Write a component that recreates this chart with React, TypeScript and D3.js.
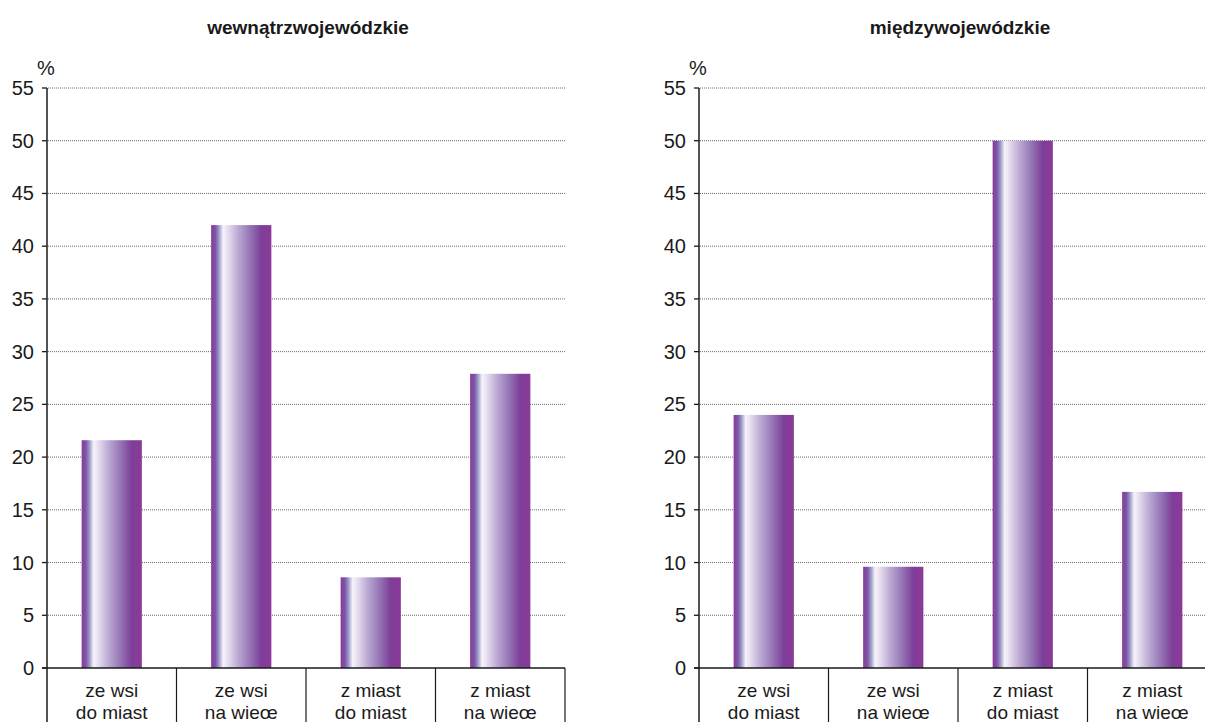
import React from "react";
import * as d3 from "d3";

const categories = ["ze wsi\ndo miast", "ze wsi\nna wieœ", "z miast\ndo miast", "z miast\nna wieœ"];
const intraValues = [21.6, 42.0, 8.6, 27.9];
const interValues = [24.0, 9.6, 50.0, 16.7];
const yTicks = [0, 5, 10, 15, 20, 25, 30, 35, 40, 45, 50, 55];
const titles = ["wewnątrzwojewódzkie", "międzywojewódzkie"];

const W = 1205;
const H = 722;
const FONT = "'Liberation Sans', Arial, sans-serif";

const y = d3.scaleLinear().domain([0, 55]).range([668, 88]);

function Panel({ title, values, x0, x1, gid }: { title: string; values: number[]; x0: number; x1: number; gid: string }) {
  const x = d3.scaleBand<string>().domain(categories).range([x0, x1]).paddingInner(0.535).paddingOuter(0.2675);
  const step = x.step();
  const edges = categories.map((c) => (x(c) as number) - (step - x.bandwidth()) / 2).concat([x1]);
  return (
    <g>
      <text x={(x0 + x1) / 2 + 2} y={34} textAnchor="middle" fontFamily={FONT} fontWeight="bold" fontSize={19} fill="#1a1a1a">
        {title}
      </text>
      <text x={x0 - 10} y={75} fontFamily={FONT} fontSize={20} fill="#1a1a1a">%</text>
      {yTicks.filter((t) => t > 0).map((t) => (
        <line key={"g" + t} x1={x0 + 1} x2={x1} y1={y(t)} y2={y(t)} stroke="#6a6a6a" strokeWidth={1} strokeDasharray="1 1" />
      ))}
      {yTicks.map((t) => (
        <g key={"t" + t}>
          <line x1={x0 - 5} x2={x0} y1={y(t)} y2={y(t)} stroke="#1a1a1a" strokeWidth={1.3} />
          <text x={x0 - 13} y={y(t) + 7} textAnchor="end" fontFamily={FONT} fontSize={20} fill="#1a1a1a">{t}</text>
        </g>
      ))}
      {categories.map((c, i) => (
        <rect key={"b" + i} x={x(c)} y={y(values[i])} width={x.bandwidth()} height={y(0) - y(values[i])} fill={`url(#${gid})`} />
      ))}
      <line x1={x0} x2={x0} y1={y(55)} y2={H} stroke="#1a1a1a" strokeWidth={1.5} />
      <line x1={x0 - 5} x2={x1} y1={y(0)} y2={y(0)} stroke="#1a1a1a" strokeWidth={1.5} />
      {edges.slice(1).map((e, i) => (
        <line key={"s" + i} x1={e} x2={e} y1={y(0)} y2={H} stroke="#1a1a1a" strokeWidth={1.2} />
      ))}
      {categories.map((c, i) => {
        const cx = (x(c) as number) + x.bandwidth() / 2;
        return (
          <text key={"l" + i} textAnchor="middle" fontFamily={FONT} fontSize={19} fill="#1a1a1a">
            {c.split("\n").map((ln, k) => (
              <tspan key={k} x={cx} y={697 + k * 22}>{ln}</tspan>
            ))}
          </text>
        );
      })}
    </g>
  );
}

export default function App() {
  const stops: [number, string][] = [
    [0, "#8a3a98"],
    [0.07, "#7d55a6"],
    [0.13, "#9c9aca"],
    [0.2, "#f7f3fa"],
    [0.27, "#e8e0f0"],
    [0.45, "#bba8d3"],
    [0.65, "#9474b4"],
    [0.83, "#7e3e99"],
    [1, "#8c3a98"],
  ];
  return (
    <svg width={W} height={H} style={{ position: "absolute", left: 0, top: 0, background: "#fff" }}>
      <defs>
        <linearGradient id="barGrad" x1="0" x2="1" y1="0" y2="0">
          {stops.map(([o, c], i) => (
            <stop key={i} offset={o} stopColor={c} />
          ))}
        </linearGradient>
      </defs>
      <rect width={W} height={H} fill="#fff" />
      <Panel title={titles[0]} values={intraValues} x0={47} x1={565} gid="barGrad" />
      <Panel title={titles[1]} values={interValues} x0={699} x1={1217} gid="barGrad" />
    </svg>
  );
}
